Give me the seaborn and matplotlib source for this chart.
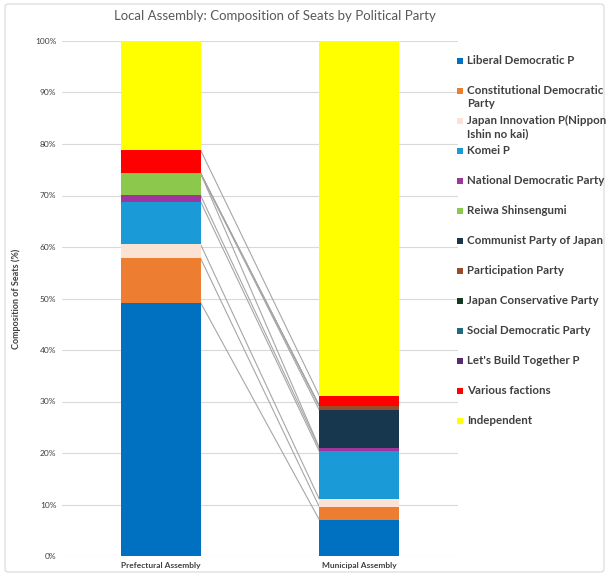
import matplotlib
matplotlib.use("Agg")
import matplotlib.pyplot as plt
import seaborn as sns
import pandas as pd
import numpy as np
from matplotlib.patches import Rectangle, FancyBboxPatch

sns.set_theme(style="white")
plt.rcParams['font.family'] = ['Lato', 'DejaVu Sans']

assemblies = ["Prefectural Assembly", "Municipal Assembly"]
parties = ["Liberal Democratic P", "Constitutional Democratic\nParty",
           "Japan Innovation P(Nippon\nIshin no kai)", "Komei P",
           "National Democratic Party", "Reiwa Shinsengumi",
           "Communist Party of Japan", "Participation Party",
           "Japan Conservative Party", "Social Democratic Party",
           "Let's Build Together P", "Various factions", "Independent"]
prefectural = [49.2, 8.6, 2.7, 8.3, 1.2, 4.3, 0.0, 0.0, 0.0, 0.0, 0.0, 4.5, 21.2]
municipal = [7.0, 2.5, 1.5, 9.3, 0.6, 0.1, 7.3, 0.8, 0.0, 0.0, 0.0, 2.0, 68.9]
colors = ["#0070C0", "#ED7D31", "#FBE2D5", "#1A9BD7", "#A0359E", "#8CC84B",
          "#17374F", "#9C4A2A", "#163A1E", "#1F6B7E", "#5A2A6E", "#FF0000", "#FFFF00"]

df = pd.DataFrame({"assembly": np.repeat(assemblies, len(parties)),
                   "party": parties * 2,
                   "value": prefectural + municipal})

fig = plt.figure(figsize=(6.09, 5.76), dpi=100)
ax = fig.add_axes([62/609, 1-556/576, 396/609, 515/576])

width = 0.4
bottoms = np.zeros(2)
for i, p in enumerate(parties):
    vals = df[df.party == p].set_index("assembly").loc[assemblies, "value"].values
    ax.bar([0, 1], vals, width=width, bottom=bottoms, color=colors[i], linewidth=0, zorder=3)
    bottoms = bottoms + vals
    if i < len(parties) - 1:
        ax.plot([width/2, 1-width/2], bottoms, color="#A6A6A6", lw=0.8, zorder=2)

ax.set_xlim(-0.5, 1.5)
ax.set_ylim(0, 100)
ax.set_yticks(np.arange(0, 101, 10))
ax.set_yticklabels([f"{t}%" for t in range(0, 101, 10)], fontsize=6, color="#404040")
ax.set_xticks([0, 1])
ax.set_xticklabels(assemblies, fontsize=6, fontweight="bold", color="#404040")
ax.tick_params(axis="both", length=0, pad=4)
ax.grid(axis="y", color="#D9D9D9", lw=0.8, zorder=0)
for s in ax.spines.values():
    s.set_visible(False)
ax.set_ylabel("Composition of Seats (%)", fontsize=6.5, fontweight="bold", color="#404040", labelpad=10)
ax.set_xlabel("")

fig.text(275/609, 1-16/576, "Local Assembly: Composition of Seats by Political Party",
         ha="center", va="center", fontsize=9.5, color="#595959")

# legend
for i, p in enumerate(parties):
    y = 61 + 30*i
    fig.patches.append(Rectangle((457/609, 1-(y+3)/576), 6/609, 6/576,
                                 transform=fig.transFigure, color=colors[i],
                                 ec="none", figure=fig))
    fig.text(467/609, 1-(y-6)/576, p, ha="left", va="top", fontsize=8.3,
             fontweight="bold", color="#404040", linespacing=1.25)

fig.patches.append(FancyBboxPatch((5/609, 4/576), 599/609, 568/576,
                                  boxstyle="round,pad=0,rounding_size=0.005",
                                  transform=fig.transFigure, fill=False,
                                  ec="#D9D9D9", lw=0.8, figure=fig))

fig.savefig("out.png", dpi=100)
